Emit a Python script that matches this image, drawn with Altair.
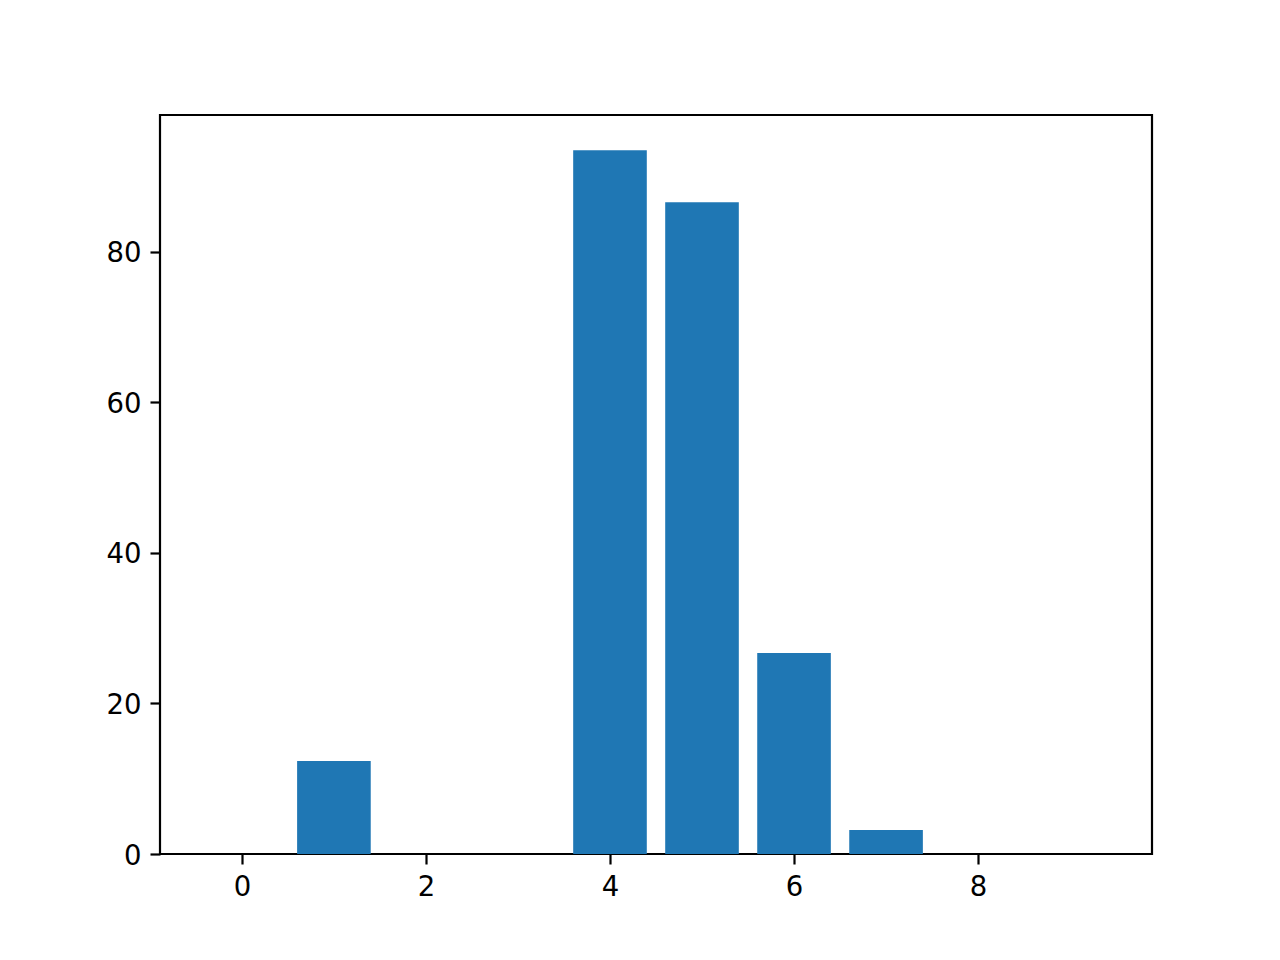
import altair as alt
import pandas as pd

positions = [0, 1, 2, 3, 4, 5, 6, 7, 8, 9]
values = [0, 12.35, 0, 0, 93.5, 86.6, 26.7, 3.2, 0, 0]

df = pd.DataFrame({"pos": positions, "val": values})

FONT = "DejaVu Sans"

chart = (
    alt.Chart(df)
    .transform_calculate(x0="datum.pos - 0.4", x1="datum.pos + 0.4", base="0")
    .mark_bar(color="#1f77b4", cornerRadius=0)
    .encode(
        x=alt.X(
            "x0:Q",
            scale=alt.Scale(domain=[-0.89, 9.89], nice=False, zero=False),
            axis=alt.Axis(values=[0, 2, 4, 6, 8], title=None, grid=False, format="d",
                          labelPadding=9),
        ),
        x2="x1:Q",
        y=alt.Y(
            "val:Q",
            scale=alt.Scale(domain=[0, 98.2], nice=False),
            axis=alt.Axis(values=[0, 20, 40, 60, 80], title=None, grid=False,
                          labelOffset=2, labelPadding=9),
        ),
        y2="base:Q",
    )
    .properties(
        width=992,
        height=739,
        background="white",
        autosize=alt.AutoSizeParams(type="none"),
        padding={"left": 152, "top": 107, "right": 112, "bottom": 98},
    )
    .configure_view(stroke="black", strokeWidth=2.2)
    .configure_axis(
        domain=False,
        tickColor="black",
        tickWidth=2.2,
        tickSize=10,
        labelFont=FONT,
        labelFontSize=27.5,
        labelColor="black",
    )
)

chart.save("out.html", embed_options={"renderer": "svg", "actions": False})
